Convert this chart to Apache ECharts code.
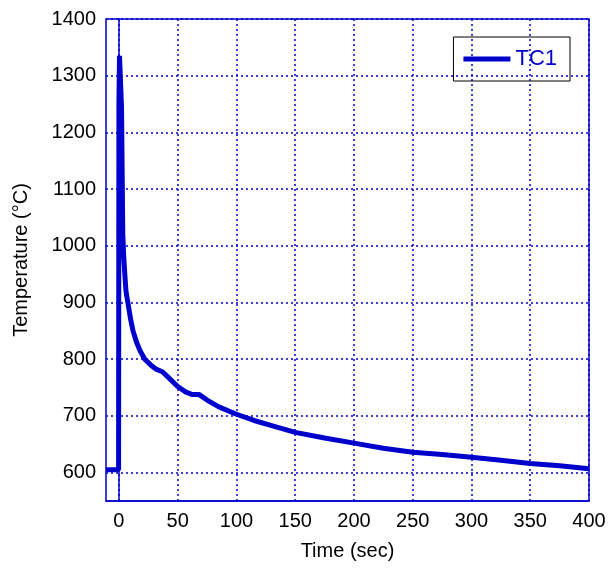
<!DOCTYPE html>
<html>
<head>
<meta charset="utf-8">
<script src="https://cdn.jsdelivr.net/npm/echarts@6/dist/echarts.min.js"></script>
<style>html,body{margin:0;padding:0;background:#fff}#c{width:610px;height:571px}</style>
</head>
<body>
<div id="c"></div>
<script>
var seriesName = 'TC1';
var times = [-11, -0.3, 0, 0.5, 1.8, 2.2, 2.8, 3.3, 4, 5, 6, 8, 10, 12, 15, 18, 22, 27, 32, 37, 42, 50, 57, 62, 68, 75, 85, 100, 115, 130, 150, 175, 200, 225, 250, 275, 300, 325, 350, 375, 400];
var temps = [605, 605, 1250, 1335, 1335, 1245, 1245, 1020, 985, 950, 920, 895, 870, 850, 830, 815, 800, 790, 782, 778, 768, 752, 742, 738, 738, 728, 716, 703, 692, 683, 671, 661, 652, 643, 636, 632, 627, 622, 616, 612, 607];
var xTicks = [0, 50, 100, 150, 200, 250, 300, 350, 400];
var yTicks = [600, 700, 800, 900, 1000, 1100, 1200, 1300, 1400];

var data = times.map(function (t, i) { return [t, temps[i]]; });
var blue = '#0000cc';
var plain = function (v) { return String(v); };
var chart = echarts.init(document.getElementById('c'), null, {renderer: 'canvas'});
chart.setOption({
  animation: false,
  textStyle: {fontFamily: 'Liberation Sans, Arial, sans-serif'},
  grid: {left: 106, top: 19, right: 21, bottom: 70, show: true, borderColor: blue, borderWidth: 1.5, backgroundColor: 'transparent'},
  legend: {
    right: 40, top: 37, orient: 'vertical',
    padding: [11, 13, 11, 10],
    borderColor: '#000', borderWidth: 1,
    itemWidth: 47, itemHeight: 5,
    textStyle: {color: blue, fontSize: 22, fontFamily: 'Liberation Sans, Arial, sans-serif'},
    data: [{name: seriesName, icon: 'rect', itemStyle: {color: blue}}]
  },
  xAxis: {
    type: 'value', min: -11, max: 400,
    name: 'Time (sec)', nameLocation: 'middle', nameGap: 40,
    nameTextStyle: {fontSize: 20, color: '#000'},
    axisLine: {show: true, lineStyle: {color: blue, width: 1.5}},
    axisTick: {show: false, customValues: xTicks},
    axisLabel: {customValues: xTicks, fontSize: 20, color: '#000', margin: 10, formatter: plain},
    splitLine: {show: true, lineStyle: {color: blue, width: 1.5, type: [2, 3]}}
  },
  yAxis: {
    type: 'value', min: 550, max: 1400,
    name: 'Temperature (°C)', nameLocation: 'middle', nameGap: 75,
    nameTextStyle: {fontSize: 20, color: '#000'},
    axisLine: {show: true, lineStyle: {color: blue, width: 1.5}},
    axisTick: {show: false, customValues: yTicks},
    axisLabel: {customValues: yTicks, fontSize: 20, color: '#000', margin: 10, formatter: plain},
    splitLine: {show: true, lineStyle: {color: blue, width: 1.5, type: [2, 3]}}
  },
  series: [{
    name: seriesName, type: 'line', data: data, showSymbol: false, symbol: 'none',
    lineStyle: {color: blue, width: 5}, itemStyle: {color: blue}
  }]
});
</script>
</body>
</html>
